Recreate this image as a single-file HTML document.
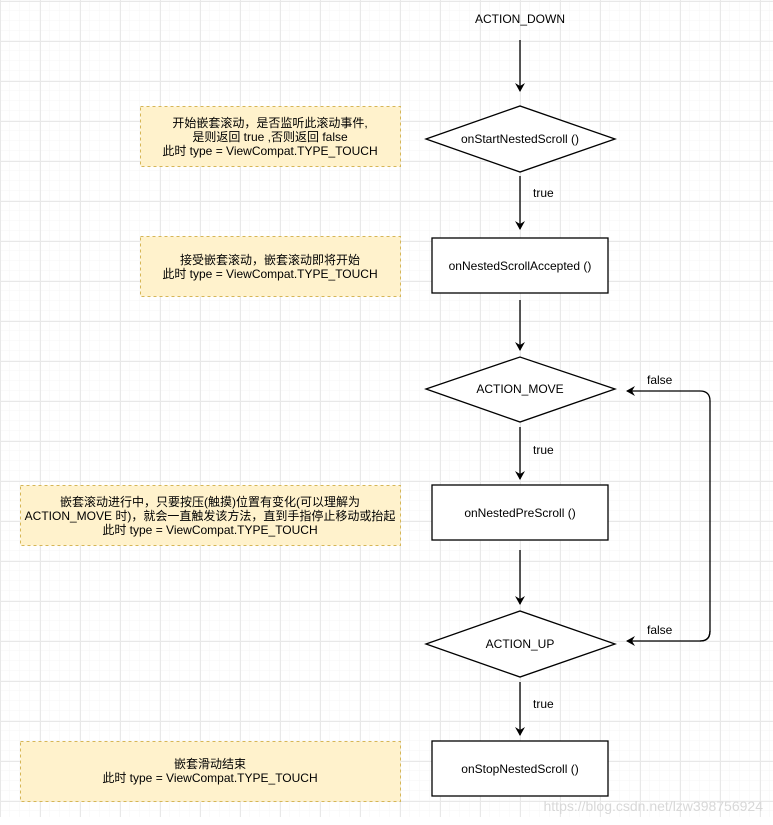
<!DOCTYPE html>
<html><head><meta charset="utf-8"><style>
html,body{margin:0;padding:0;background:#fff}
svg{display:block}
text{font-family:"Liberation Sans","Noto Sans CJK SC",sans-serif;font-size:12px;fill:#000}
</style></head><body>
<svg width="773" height="825" xmlns="http://www.w3.org/2000/svg">
<defs>
<pattern id="mi" width="10" height="10" patternUnits="userSpaceOnUse" y="1">
<path d="M10 0V10M0 10H10" stroke="#f5f5f5" stroke-width="1" fill="none"/></pattern>
<pattern id="ma" width="40" height="40" patternUnits="userSpaceOnUse" y="1">
<path d="M0.5 0V40M0 0.5H40" stroke="#e8e8e8" stroke-width="1" fill="none"/></pattern>
<marker id="ar" markerWidth="10" markerHeight="10" refX="8" refY="5" orient="auto" markerUnits="userSpaceOnUse">
<path d="M0 0L9 5L0 10L3 5Z" fill="#000"/></marker>
</defs>
<rect width="773" height="817" fill="url(#mi)"/>
<rect width="773" height="817" fill="url(#ma)"/>

<text x="520" y="23" text-anchor="middle">ACTION_DOWN</text>

<g stroke="#000" stroke-width="1.3" fill="none" marker-end="url(#ar)">
<path d="M520 40V91"/>
<path d="M520 176V229"/>
<path d="M520 300V350"/>
<path d="M520 427V479"/>
<path d="M520 550V604"/>
<path d="M520 682V735"/>
<path d="M700 641Q710 641 710 631V401Q710 391 700 391H627"/>
<path d="M710 631Q710 641 700 641H627"/>
</g>

<g fill="#fff" stroke="#000" stroke-width="1.3">
<path d="M426 139L520 106L615 139L520 172Z"/>
<rect x="432" y="238" width="176" height="55"/>
<path d="M426 389L520 357L615 389L520 422Z"/>
<rect x="432" y="485" width="176" height="55"/>
<path d="M426 644L520 611L615 644L520 677Z"/>
<rect x="432" y="741" width="176" height="55"/>
</g>
<g text-anchor="middle">
<text x="520" y="143">onStartNestedScroll ()</text>
<text x="520" y="270">onNestedScrollAccepted ()</text>
<text x="520" y="393">ACTION_MOVE</text>
<text x="520" y="517">onNestedPreScroll ()</text>
<text x="520" y="648">ACTION_UP</text>
<text x="520" y="773">onStopNestedScroll ()</text>
</g>
<text x="533" y="197">true</text>
<text x="533" y="454">true</text>
<text x="533" y="708">true</text>
<text x="647" y="384">false</text>
<text x="647" y="634">false</text>

<g fill="#fff2cc" stroke="#d6b656" stroke-dasharray="3,3">
<rect x="140.5" y="106.5" width="260" height="60"/>
<rect x="140.5" y="236.5" width="260" height="60"/>
<rect x="20.5" y="485.5" width="380" height="60"/>
<rect x="20.5" y="741.5" width="380" height="60"/>
</g>
<g text-anchor="middle">
<text x="270" y="127">开始嵌套滚动，是否监听此滚动事件,</text>
<text x="270" y="141">是则返回 true ,否则返回 false</text>
<text x="270" y="155">此时 type = ViewCompat.TYPE_TOUCH</text>
<text x="270" y="264">接受嵌套滚动，嵌套滚动即将开始</text>
<text x="270" y="278">此时 type = ViewCompat.TYPE_TOUCH</text>
<text x="210" y="506">嵌套滚动进行中，只要按压(触摸)位置有变化(可以理解为</text>
<text x="210" y="520">ACTION_MOVE 时)，就会一直触发该方法，直到手指停止移动或抬起</text>
<text x="210" y="534">此时 type = ViewCompat.TYPE_TOUCH</text>
<text x="210" y="768">嵌套滑动结束</text>
<text x="210" y="782">此时 type = ViewCompat.TYPE_TOUCH</text>
</g>
<text x="763" y="811" text-anchor="end" style="font-size:14px;fill:#d8d8d8">https://blog.csdn.net/lzw398756924</text>
</svg>
</body></html>
